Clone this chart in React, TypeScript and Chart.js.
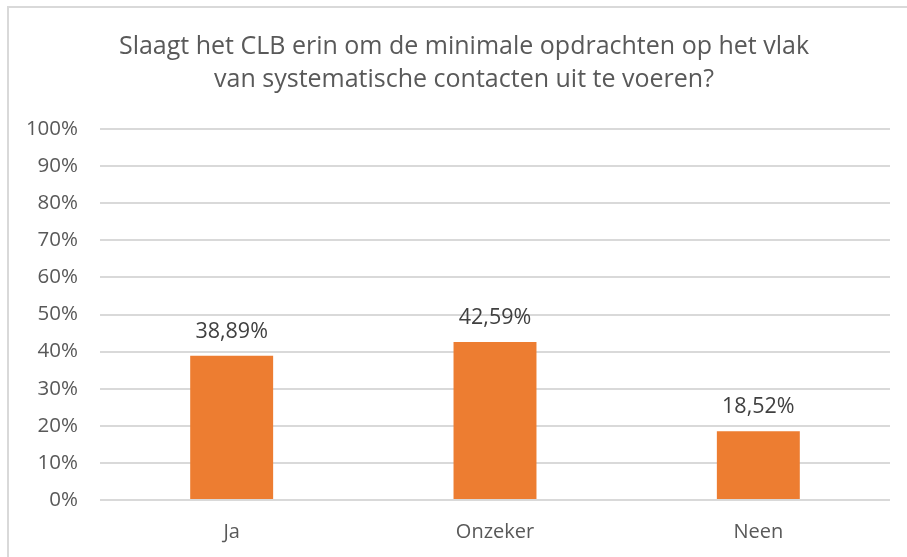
import React, { useEffect, useRef } from "react";
import { Chart, registerables } from "chart.js";

Chart.register(...registerables);

const categories = ["Ja", "Onzeker", "Neen"];
const values = [38.89, 42.59, 18.52];
const valueLabels = ["38,89%", "42,59%", "18,52%"];
const titleLines = [
  "Slaagt het CLB erin om de minimale opdrachten op het vlak",
  "van systematische contacten uit te voeren?",
];

const FONT = "'Open Sans', 'Noto Sans', sans-serif";

export default function App() {
  const ref = useRef<HTMLCanvasElement | null>(null);

  useEffect(() => {
    document.body.style.margin = "0";
    const canvas = ref.current;
    if (!canvas) return;

    const framePlugin = {
      id: "frame",
      beforeDraw(chart: any) {
        const ctx = chart.ctx;
        ctx.save();
        ctx.fillStyle = "#ffffff";
        ctx.fillRect(0, 0, chart.width, chart.height);
        ctx.fillStyle = "#d9d9d9";
        ctx.fillRect(7, 6, chart.width - 7, 2);
        ctx.fillRect(7, 6, 2, chart.height - 6);
        ctx.restore();
      },
    };

    const titlePlugin = {
      id: "customTitle",
      afterDraw(chart: any) {
        const ctx = chart.ctx;
        ctx.save();
        ctx.font = `25px ${FONT}`;
        ctx.fillStyle = "#595959";
        ctx.textAlign = "center";
        ctx.textBaseline = "middle";
        titleLines.forEach((line, i) => {
          ctx.fillText(line, 464, 47 + i * 33);
        });
        ctx.restore();
      },
    };

    const labelPlugin = {
      id: "valueLabels",
      afterDatasetsDraw(chart: any) {
        const ctx = chart.ctx;
        const meta = chart.getDatasetMeta(0);
        ctx.save();
        ctx.font = `21.5px ${FONT}`;
        ctx.fillStyle = "#404040";
        ctx.textAlign = "center";
        ctx.textBaseline = "middle";
        meta.data.forEach((bar: any, i: number) => {
          ctx.fillText(valueLabels[i], bar.x, bar.y - 24);
        });
        ctx.restore();
      },
    };

    const chart = new Chart(canvas, {
      type: "bar",
      data: {
        labels: categories,
        datasets: [
          {
            data: values,
            backgroundColor: "#ED7D31",
            borderWidth: 0,
            barPercentage: 0.315,
            categoryPercentage: 1,
          },
        ],
      },
      options: {
        animation: false,
        responsive: false,
        maintainAspectRatio: false,
        layout: { padding: { left: 0, right: 17, top: 129, bottom: 13 } },
        plugins: {
          legend: { display: false },
          tooltip: { enabled: false },
          title: { display: false },
        },
        scales: {
          x: {
            afterFit(scale: any) {
              scale.height = 44;
            },
            grid: { display: false, drawTicks: false },
            border: { display: false },
            ticks: {
              color: "#595959",
              font: { family: FONT, size: 20 },
              padding: 20,
            },
          },
          y: {
            min: 0,
            max: 100,
            afterFit(scale: any) {
              scale.width = 100;
            },
            grid: { color: "#d9d9d9", lineWidth: 2, drawTicks: false },
            border: { display: false },
            ticks: {
              stepSize: 10,
              color: "#595959",
              font: { family: FONT, size: 20.5 },
              padding: 22,
              callback: (v: any) => `${v}%`,
            },
          },
        },
      },
      plugins: [framePlugin, titlePlugin, labelPlugin],
    });

    return () => chart.destroy();
  }, []);

  return (
    <div style={{ width: 907, height: 557 }}>
      <canvas ref={ref} width={907} height={557} style={{ display: "block" }} />
    </div>
  );
}
